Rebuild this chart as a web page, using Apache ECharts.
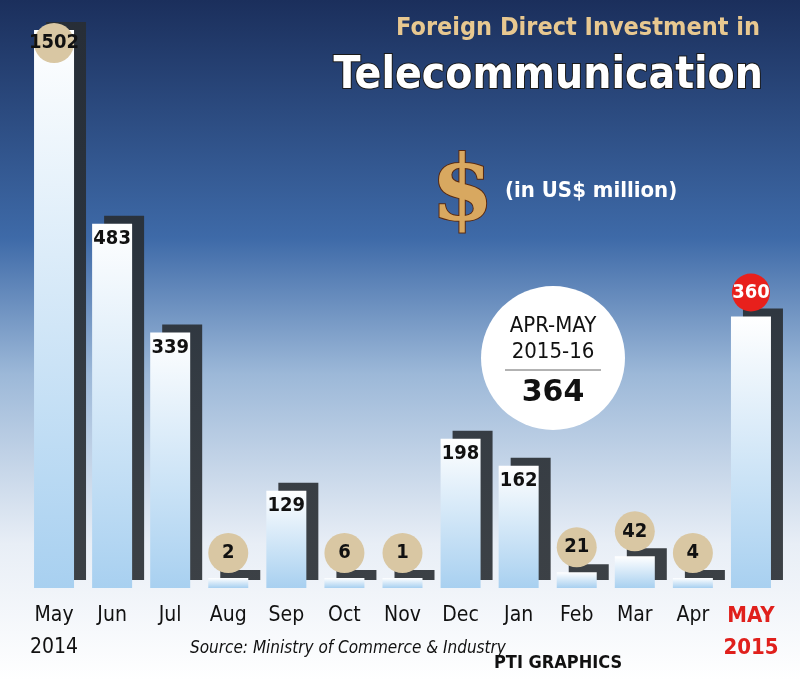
<!DOCTYPE html>
<html><head><meta charset="utf-8">
<script src="https://cdn.jsdelivr.net/npm/echarts@6/dist/echarts.min.js"></script>
<style>html,body{margin:0;padding:0;}#c{width:800px;height:680px;}</style>
</head><body><div id="c"></div>
<script>
const months = ['May\n2014','Jun','Jul','Aug','Sep','Oct','Nov','Dec','Jan','Feb','Mar','Apr','MAY\n2015'];
const values = [1502,483,339,2,129,6,1,198,162,21,42,4,360];
const circled = [true,false,false,true,false,true,true,false,false,true,true,true,false];
const F = '"Liberation Sans Narrow","DejaVu Sans Condensed","Roboto Condensed",sans-serif';
const chart = echarts.init(document.getElementById('c'));
const data = values.map((v,i)=>{
  let lab;
  if (i===12) lab = {formatter:'{r|'+v+'}', position:'top'};
  else if (i===0) lab = {formatter:'{c|'+v+'}', position:'insideTop', offset:[0,-12]};
  else if (circled[i]) lab = {formatter:'{c|'+v+'}', position:'top'};
  else lab = {formatter:'{t|'+v+'}', position:'insideTop'};
  return {value:v, label:Object.assign({show:true}, lab)};
});
chart.setOption({
  backgroundColor:{type:'linear',x:0,y:0,x2:0,y2:1,colorStops:[
    {offset:0,color:'#1b2f5c'},{offset:0.35,color:'#3e6aa8'},{offset:0.55,color:'#9cb8d8'},
    {offset:0.8,color:'#e8eef6'},{offset:1,color:'#ffffff'}]},
  graphic:[
    {type:'text',right:40,top:16,style:{text:'Foreign Direct Investment in',fill:'#e8c890',font:'bold 25px '+F}},
    {type:'text',right:36,top:54,style:{text:'Telecommunication',fill:'#ffffff',stroke:'#1a1a1a',lineWidth:2,font:'bold 44px '+F}},
    {type:'text',left:505,top:180,style:{text:'(in US$ million)',fill:'#ffffff',font:'bold 22px '+F}},
    {type:'text',left:430,top:150,style:{text:'$',fill:'#d8a860',stroke:'#5a2a10',lineWidth:2,font:'bold 90px "DejaVu Serif", serif'}},
    {type:'circle',shape:{cx:553,cy:358,r:72},style:{fill:'#ffffff'}},
    {type:'text',x:553,y:313,style:{text:'APR-MAY\n2015-16',align:'center',fill:'#111',font:'22px '+F,lineHeight:26}},
    {type:'line',shape:{x1:505,y1:370,x2:601,y2:370},style:{stroke:'#666',lineWidth:1}},
    {type:'text',x:553,y:378,style:{text:'364',align:'center',fill:'#111',font:'bold 30px "DejaVu Sans", sans-serif'}},
    {type:'text',left:190,top:640,style:{text:'Source: Ministry of Commerce & Industry',fill:'#111',font:'italic 17px '+F}},
    {type:'text',left:494,top:654,style:{text:'PTI GRAPHICS',fill:'#111',font:'bold 18px '+F}}
  ],
  grid:{left:25,right:20,top:30,bottom:92},
  xAxis:{type:'category',data:months,axisLine:{show:false},axisTick:{show:false},
    axisLabel:{interval:0,margin:12,lineHeight:32,fontSize:21,fontFamily:F,color:'#111',
      formatter:(v,i)=> i===12?'{m|'+v+'}':v, rich:{m:{color:'#e0201c',fontWeight:'bold',fontSize:22,lineHeight:32,fontFamily:F}}}},
  yAxis:{type:'value',min:0,max:740,show:false,splitLine:{show:false}},
  series:[{type:'bar',data:data,barWidth:40,barMinHeight:10,clip:true,
    itemStyle:{color:{type:'linear',x:0,y:0,x2:0,y2:1,colorStops:[{offset:0,color:'#ffffff'},{offset:1,color:'#a8d0f0'}]},
      shadowColor:'rgba(40,45,50,0.9)',shadowOffsetX:12,shadowOffsetY:-8},
    label:{rich:{
      c:{backgroundColor:'#d9c7a3',borderRadius:22,width:40,height:40,align:'center',fontSize:20,fontWeight:'bold',color:'#111',fontFamily:F},
      r:{backgroundColor:'#e8201c',borderRadius:20,width:38,height:38,align:'center',fontSize:20,fontWeight:'bold',color:'#fff',fontFamily:F},
      t:{fontSize:20,fontWeight:'bold',color:'#111',fontFamily:F}}}
  }]
});
</script></body></html>
